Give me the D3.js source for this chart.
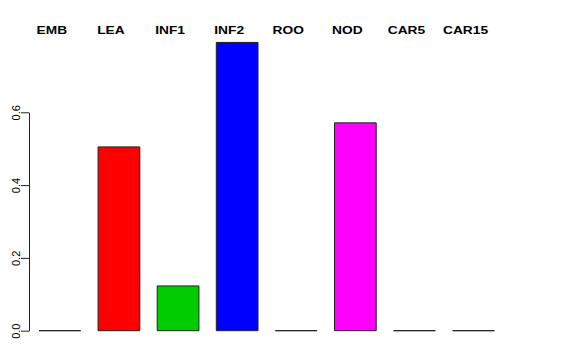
<!DOCTYPE html>
<html>
<head>
<meta charset="utf-8">
<script src="https://cdn.jsdelivr.net/npm/d3@7"></script>
<style>
  body { margin: 0; background: #fff; }
  svg { display: block; }
</style>
</head>
<body>
<div id="viz"></div>
<script>
(function() {

let categories = ["EMB", "LEA", "INF1", "INF2", "ROO", "NOD", "CAR5", "CAR15"];
let values = [0, 0.505, 0.123, 0.792, 0, 0.571, 0, 0];
let barColors = ["#000000", "#FF0000", "#00CD00", "#0000FF", "#00FFFF", "#FF00FF", "#FFFF00", "#BEBEBE"];
let yTicks = [0, 0.2, 0.4, 0.6];

let canvasWidth = 576;
let canvasHeight = 360;
let axisX = 29;

let svg = d3.select("#viz").append("svg")
  .attr("width", canvasWidth)
  .attr("height", canvasHeight);

let x = d3.scaleBand()
  .domain(categories)
  .range([30.3, 503.1])
  .paddingInner(0.294)
  .paddingOuter(0.147);

// The axis only covers 0..0.6, bars run past it.
let y = d3.scaleLinear()
  .domain([0, 0.6])
  .range([330.7, 112.3]);

let data = categories.map((c, i) => {
  return { cat: c, value: values[i], color: barColors[i] };
});

// Bars as paths so a zero bar still shows as a flat line.
svg.append("g").selectAll("path")
  .data(data)
  .enter().append("path")
  .attr("d", (d) => {
    let p = d3.path();
    let x0 = x(d.cat), x1 = x0 + x.bandwidth();
    p.moveTo(x0, y(0));
    p.lineTo(x1, y(0));
    p.lineTo(x1, y(d.value));
    p.lineTo(x0, y(d.value));
    p.closePath();
    return p.toString();
  })
  .attr("fill", (d) => d.color)
  .attr("stroke", "#222")
  .attr("stroke-width", 1);

// Category labels along the top, a little left of the bar centres.
svg.append("g").selectAll("text")
  .data(data)
  .enter().append("text")
  .attr("transform", (d) => "translate(" + (x(d.cat) + x.bandwidth() / 2 - 8) + ",33.5) scale(1.25,1)")
  .attr("text-anchor", "middle")
  .attr("font-family", "Liberation Sans, Arial, sans-serif")
  .attr("font-weight", "bold")
  .attr("font-size", "11px")
  .attr("fill", "#000")
  .text((d) => d.cat);

let yAxis = svg.append("g")
  .attr("transform", "translate(" + axisX + ",0)")
  .call(d3.axisLeft(y)
    .tickValues(yTicks)
    .tickSizeInner(8)
    .tickSizeOuter(0)
    .tickFormat(d3.format(".1f")));

yAxis.select(".domain").attr("stroke", "#222");
yAxis.selectAll(".tick line").attr("stroke", "#222");
yAxis.selectAll(".tick text")
  .attr("x", null)
  .attr("dy", null)
  .attr("transform", "translate(-9.3,0) rotate(-90)")
  .attr("text-anchor", "middle")
  .attr("font-family", "Liberation Sans, Arial, sans-serif")
  .attr("font-size", "11px")
  .attr("fill", "#000");

})();
</script>
</body>
</html>
